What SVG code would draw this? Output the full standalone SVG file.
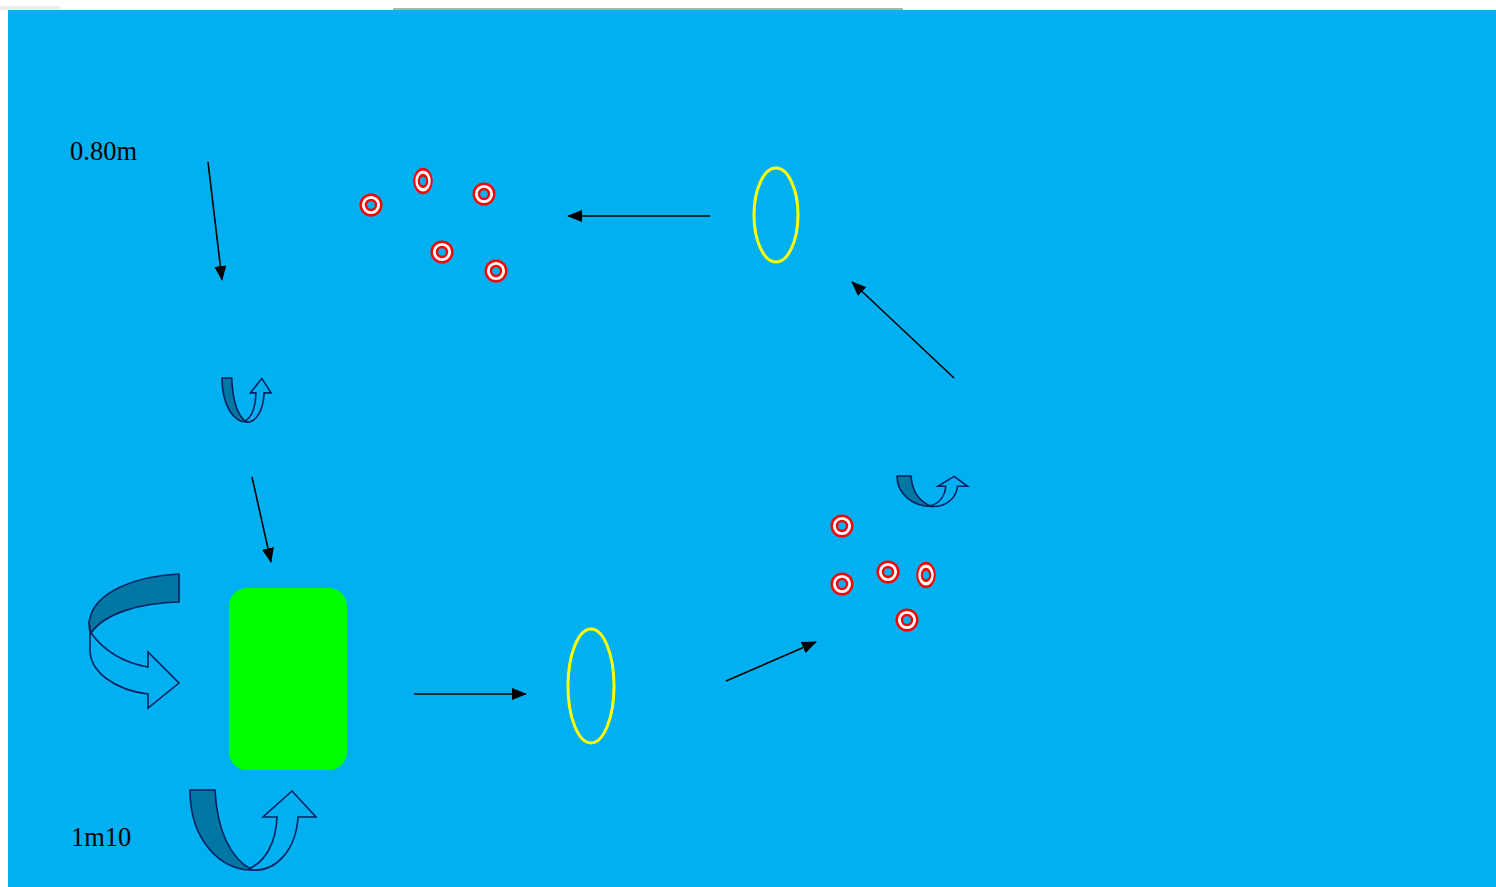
<svg xmlns="http://www.w3.org/2000/svg" width="1496" height="887" viewBox="0 0 1496 887">
<style>
.conn{stroke:#000;stroke-width:1.6;fill:none;marker-end:url(#ah)}
.ring{fill:none;stroke:#FFFF00;stroke-width:3}
.band{fill:#0076A3;stroke:#002060;stroke-width:1.6;stroke-linejoin:round}
.outl{fill:none;stroke:#002060;stroke-width:1.6;stroke-linejoin:miter}
.lbl{font-family:"Liberation Serif","Times New Roman",serif;font-size:26.5px;fill:#000}
.nss{vector-effect:non-scaling-stroke}
</style>
<defs>
<marker id="ah" markerWidth="15" markerHeight="12" refX="14" refY="6" orient="auto" markerUnits="userSpaceOnUse">
<path d="M0,0 L15,6 L0,12 Z" fill="#000"/>
</marker>
<g id="tgt">
<circle r="10.3" fill="#fff" stroke="#FF0000" stroke-width="2.4"/>
<circle r="5" fill="#00B0F0" stroke="#FF0000" stroke-width="2.4"/>
</g>
<g id="uturn">
<path class="band nss" d="M0,0 L25,0 C27,40 40,68 62,80 C30,80 0,50 0,0 Z"/>
<path class="outl nss" d="M58,79 C76,72 86,52 87,27 L73,27 L102,1 L126,27 L108,27 C106,60 86,82 62,80"/>
</g>
</defs>
<rect x="0" y="0" width="1496" height="887" fill="#fff"/>
<rect x="0" y="6" width="60" height="4" fill="#eee"/>
<line x1="393" y1="9" x2="903" y2="9" stroke="#999" stroke-width="1.5"/>
<rect x="8" y="10" width="1488" height="877" fill="#00B0F0"/>

<g id="label-080"><text class="lbl" x="70" y="160">0.80m</text></g>
<g id="label-1m10"><text class="lbl" x="71" y="846">1m10</text></g>

<g id="targets-top">
<use href="#tgt" x="371" y="205"/>
<g transform="translate(423,181) scale(0.85,1.15)"><use href="#tgt"/></g>
<use href="#tgt" x="484" y="194"/>
<use href="#tgt" x="442" y="252"/>
<use href="#tgt" x="496" y="271"/>
</g>
<g id="targets-right">
<use href="#tgt" x="842" y="526"/>
<use href="#tgt" x="842" y="584"/>
<use href="#tgt" x="888" y="572"/>
<g transform="translate(926,575) scale(0.85,1.15)"><use href="#tgt"/></g>
<use href="#tgt" x="907" y="620"/>
</g>

<g id="hoop-top"><ellipse class="ring" cx="776" cy="215" rx="22" ry="47"/></g>
<g id="hoop-bottom"><ellipse class="ring" cx="591" cy="686" rx="23" ry="57"/></g>

<g id="mat"><rect x="229" y="588" width="118" height="182" rx="18" fill="#00FF00"/></g>

<g id="turn-small-left" transform="translate(222,378) scale(0.39,0.55)"><use href="#uturn"/></g>
<g id="turn-small-right" transform="translate(897,476) scale(0.56,0.38)"><use href="#uturn"/></g>
<g id="turn-big-bottom" transform="translate(190,790)"><use href="#uturn"/></g>

<g id="turn-left">
<path class="band" d="M179,574 L179,602 C140,603 105,613 91,633 C88,628 89,620 90,618 C96,592 135,576 179,574 Z"/>
<path class="outl" d="M91,633 C105,652 125,663 148,667 L148,652 L179,683 L148,708 L148,694 C115,690 90,672 90,650 L90,625"/>
</g>

<g id="connectors">
<line class="conn" x1="208" y1="162" x2="222" y2="280"/>
<line class="conn" x1="710" y1="216" x2="568" y2="216"/>
<line class="conn" x1="954" y1="378" x2="852" y2="282"/>
<line class="conn" x1="252" y1="477" x2="271" y2="562"/>
<line class="conn" x1="414" y1="694" x2="526" y2="694"/>
<line class="conn" x1="726" y1="681" x2="816" y2="642"/>
</g>
</svg>
